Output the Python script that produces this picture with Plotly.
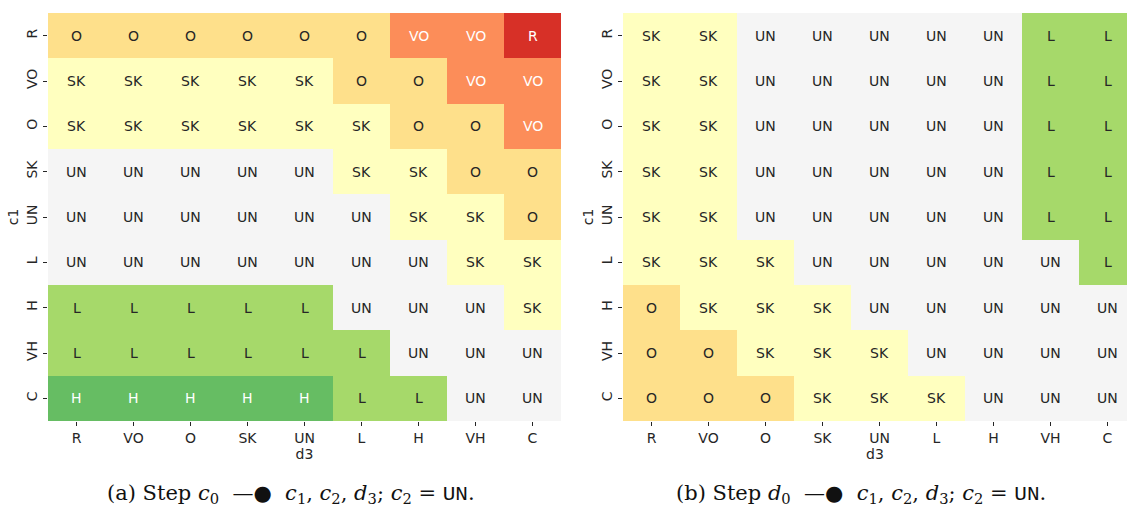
import plotly.graph_objects as go

# Ordinal levels shared by both axes and by the cell values
levels = ["R", "VO", "O", "SK", "UN", "L", "H", "VH", "C"]
d3_labels = levels
c1_labels = levels

# Panel (a): step c0 -> c1, c2, d3 with c2 = UN (rows c1, columns d3)
panel_a = [
    ["O", "O", "O", "O", "O", "O", "VO", "VO", "R"],
    ["SK", "SK", "SK", "SK", "SK", "O", "O", "VO", "VO"],
    ["SK", "SK", "SK", "SK", "SK", "SK", "O", "O", "VO"],
    ["UN", "UN", "UN", "UN", "UN", "SK", "SK", "O", "O"],
    ["UN", "UN", "UN", "UN", "UN", "UN", "SK", "SK", "O"],
    ["UN", "UN", "UN", "UN", "UN", "UN", "UN", "SK", "SK"],
    ["L", "L", "L", "L", "L", "UN", "UN", "UN", "SK"],
    ["L", "L", "L", "L", "L", "L", "UN", "UN", "UN"],
    ["H", "H", "H", "H", "H", "L", "L", "UN", "UN"],
]

# Panel (b): step d0 -> c1, c2, d3 with c2 = UN
panel_b = [
    ["SK", "SK", "UN", "UN", "UN", "UN", "UN", "L", "L"],
    ["SK", "SK", "UN", "UN", "UN", "UN", "UN", "L", "L"],
    ["SK", "SK", "UN", "UN", "UN", "UN", "UN", "L", "L"],
    ["SK", "SK", "UN", "UN", "UN", "UN", "UN", "L", "L"],
    ["SK", "SK", "UN", "UN", "UN", "UN", "UN", "L", "L"],
    ["SK", "SK", "SK", "UN", "UN", "UN", "UN", "UN", "L"],
    ["O", "SK", "SK", "SK", "UN", "UN", "UN", "UN", "UN"],
    ["O", "O", "SK", "SK", "SK", "UN", "UN", "UN", "UN"],
    ["O", "O", "O", "SK", "SK", "SK", "UN", "UN", "UN"],
]

level_colors = ["#d73027", "#fc8d59", "#fee08b", "#ffffbf", "#f5f5f5",
                "#a6d96a", "#66bd63", "#1a9850", "#006837"]
light_text_levels = {"R", "VO", "H", "VH", "C"}

TT = "<span style=\"font-family:'Liberation Mono'\">UN</span>"
captions = [
    "(a) Step <i>c</i><sub>0</sub>  —●  <i>c</i><sub>1</sub>, <i>c</i><sub>2</sub>, "
    "<i>d</i><sub>3</sub>; <i>c</i><sub>2</sub> = " + TT + ".",
    "(b) Step <i>d</i><sub>0</sub>  —●  <i>c</i><sub>1</sub>, <i>c</i><sub>2</sub>, "
    "<i>d</i><sub>3</sub>; <i>c</i><sub>2</sub> = " + TT + ".",
]

# Step colorscale: one flat band per level code
n = len(levels)
colorscale = []
for i, c in enumerate(level_colors):
    colorscale.append([i / n, c])
    colorscale.append([(i + 1) / n, c])

W, H = 1127, 510
ML, MR, MT, MB = 48, 0, 13, 89
plot_w = W - ML - MR
plot_h = H - MT - MB
dom_a = [0, (561 - ML) / plot_w]
dom_b = [(623 - ML) / plot_w, 1.0]

fig = go.Figure()
annotations = []
FS = 14
font_txt = dict(family="DejaVu Sans", size=FS)

for k, (grid, xa, ya) in enumerate([(panel_a, "x", "y"), (panel_b, "x2", "y2")]):
    z = [[levels.index(v) for v in row] for row in grid]
    fig.add_trace(go.Heatmap(
        z=z, x=d3_labels, y=c1_labels,
        colorscale=colorscale, zmin=-0.5, zmax=n - 0.5,
        showscale=False, hoverinfo="skip",
        xaxis=xa, yaxis=ya, xgap=0, ygap=0,
    ))
    for r, row in enumerate(grid):
        for c, v in enumerate(row):
            annotations.append(dict(
                x=d3_labels[c], y=c1_labels[r], xref=xa, yref=ya,
                text=v, showarrow=False,
                font=dict(font_txt, color="#ffffff" if v in light_text_levels else "#262626"),
            ))

axis_common = dict(
    type="category", showgrid=False, zeroline=False, showline=False,
    ticks="outside", ticklen=4, tickwidth=1, tickcolor="#262626",
    tickfont=dict(family="DejaVu Sans", size=FS, color="#262626"),
)
title_font = dict(family="DejaVu Sans", size=FS, color="#262626")

# Right panel is clipped at the page edge partway through its last column
x_cut = (n - 0.5) - 9 / 57.0

fig.update_layout(
    width=W, height=H,
    margin=dict(l=ML, r=MR, t=MT, b=MB),
    paper_bgcolor="white", plot_bgcolor="white",
    xaxis=dict(axis_common, domain=dom_a, range=[-0.5, n - 0.5], anchor="y",
               title=dict(text="d3", standoff=1, font=title_font)),
    yaxis=dict(axis_common, domain=[0, 1], range=[n - 0.5, -0.5], anchor="x", tickangle=-90,
               title=dict(text="c1", standoff=2, font=title_font)),
    xaxis2=dict(axis_common, domain=dom_b, range=[-0.5, x_cut], anchor="y2",
                title=dict(text="d3", standoff=1, font=title_font)),
    yaxis2=dict(axis_common, domain=[0, 1], range=[n - 0.5, -0.5], anchor="x2", tickangle=-90,
                title=dict(text="c1", standoff=2, font=title_font)),
)

# Sub-captions below each panel (pixel centres converted to plot-area fractions)
for cx, cap in zip([291, 861], captions):
    annotations.append(dict(
        x=(cx - ML) / plot_w, y=((H - 494) - MB) / plot_h,
        xref="paper", yref="paper",
        xanchor="center", yanchor="middle", showarrow=False, text=cap,
        font=dict(family="DejaVu Serif", size=21, color="#111111"),
    ))

fig.update_layout(annotations=annotations)
fig.write_html("out.html")
